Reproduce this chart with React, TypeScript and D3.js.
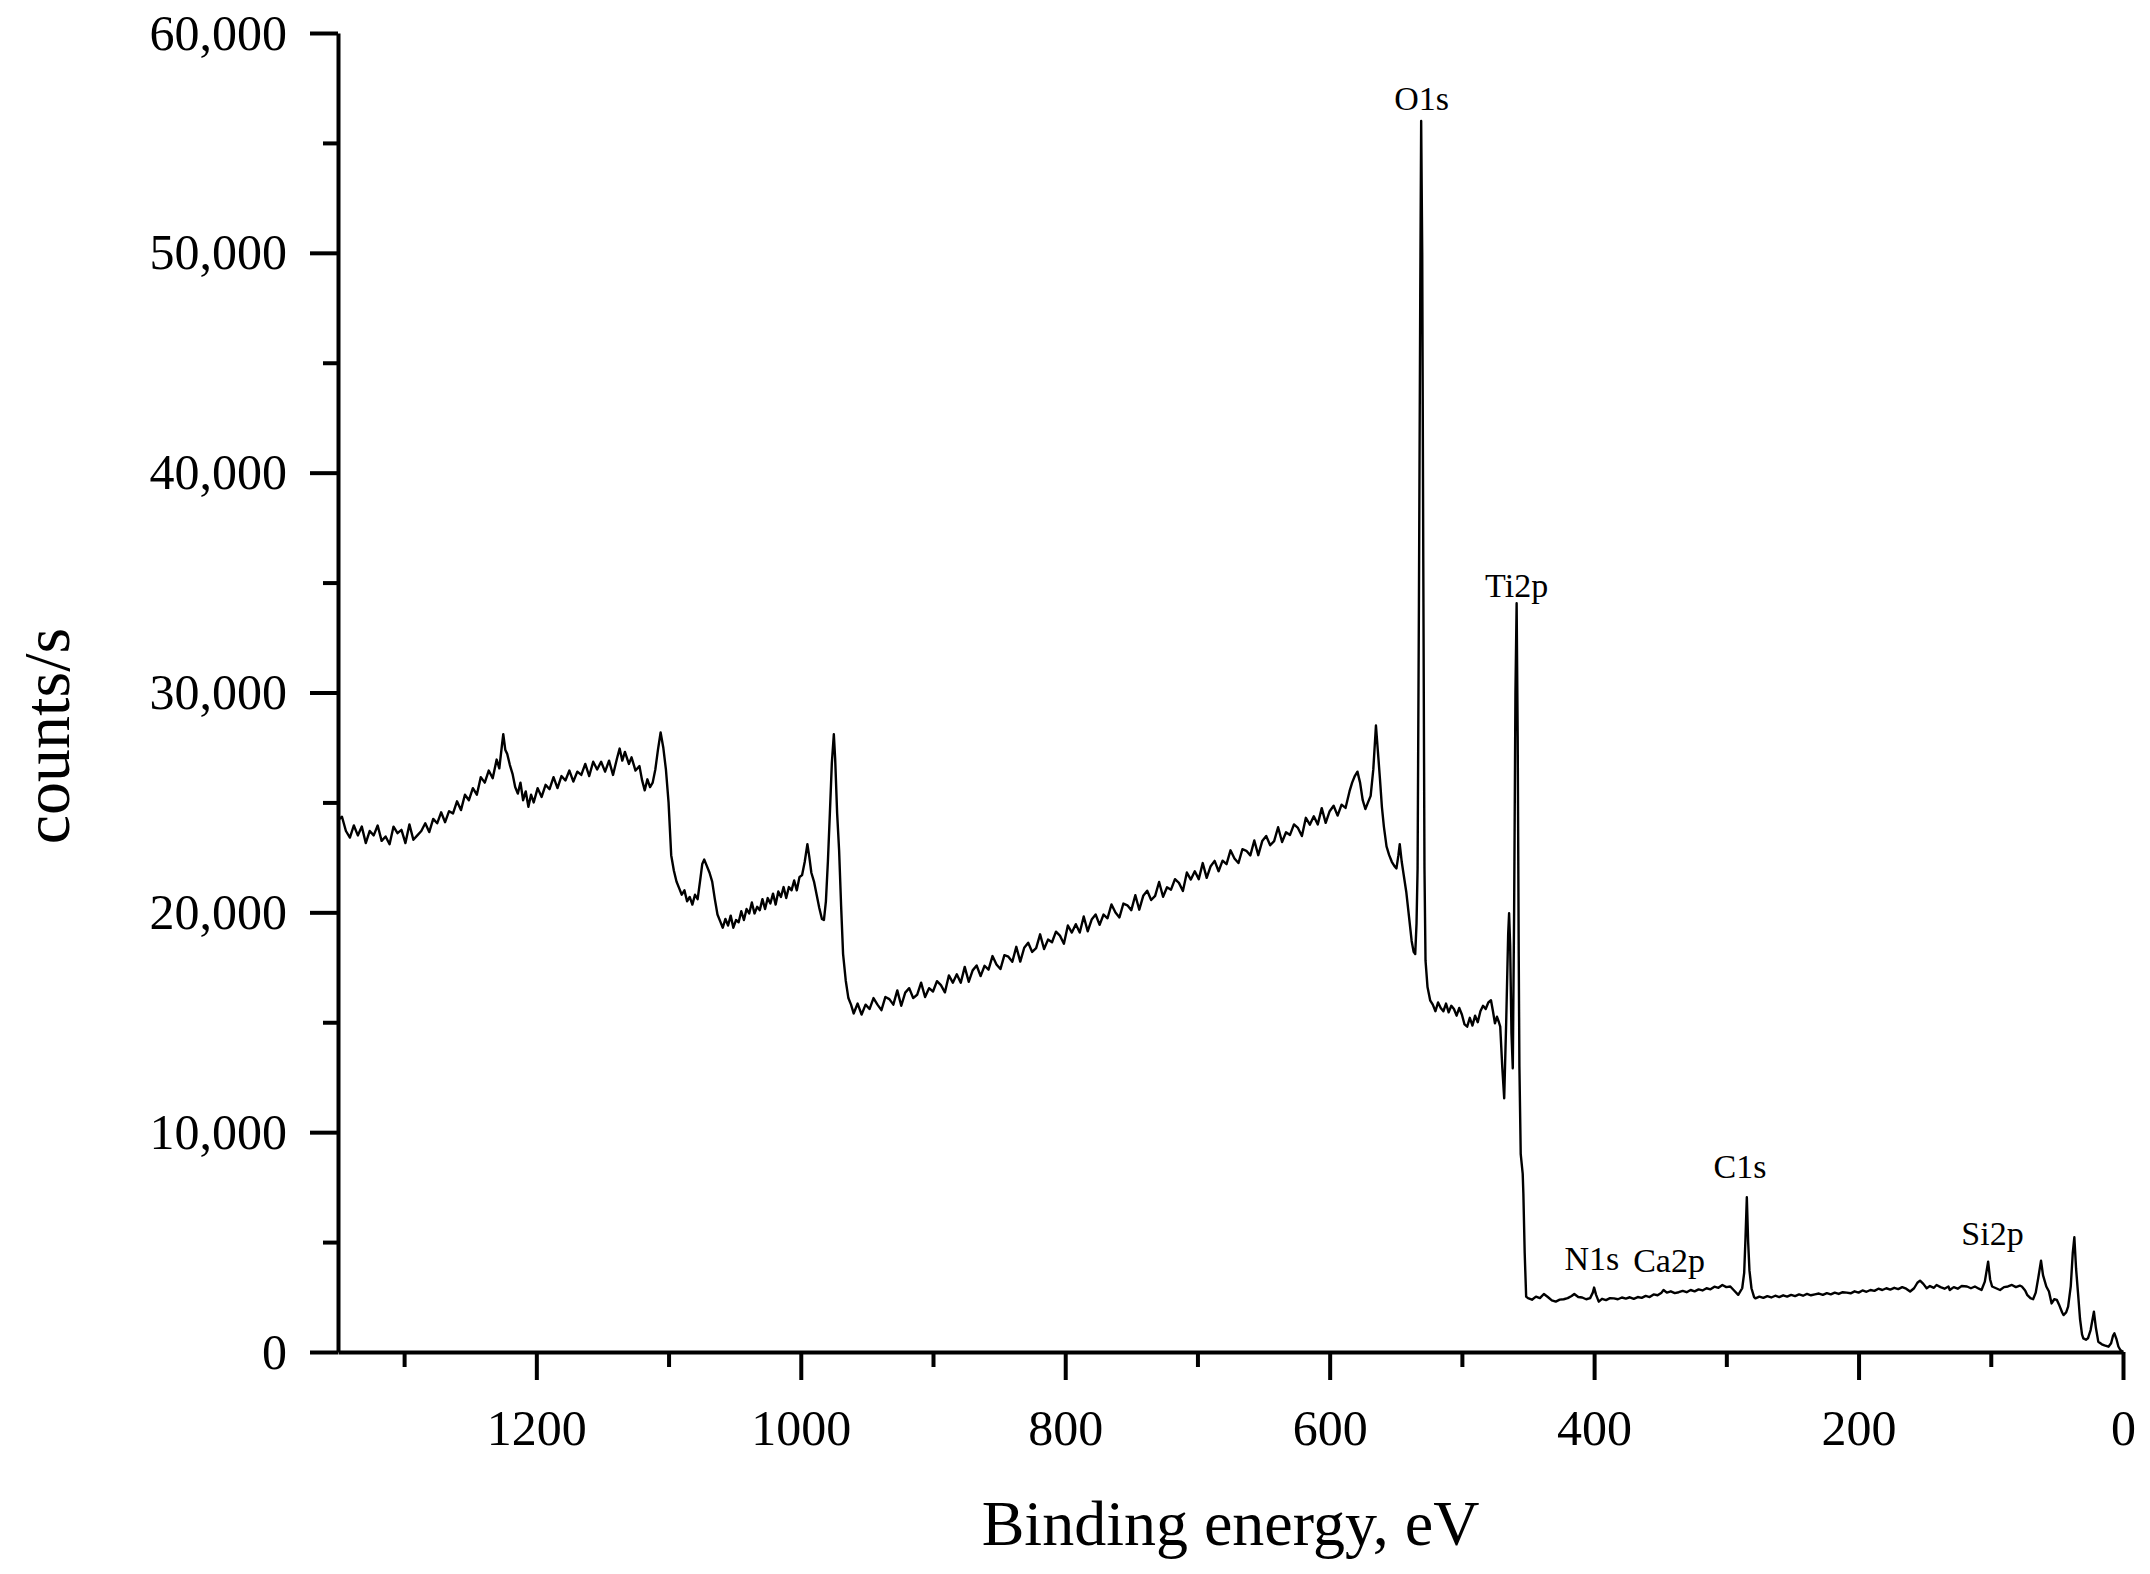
import * as d3 from 'd3';
import { useEffect, useRef } from 'react';

// XPS survey, [binding energy eV, counts/s]
const highEnergyRegion: [number, number][] = [
  [1350, 24200], [1347, 24350], [1344, 23700], [1341, 23400], [1338, 23950], [1335, 23500],
  [1332, 23900], [1329, 23150], [1326, 23700], [1323, 23500], [1320, 23950], [1317, 23250],
  [1314, 23450], [1311, 23100], [1308, 23900], [1305, 23600], [1302, 23750], [1299, 23150],
  [1296, 24000], [1293, 23300], [1290, 23500], [1287, 23700], [1284, 24050], [1281, 23650],
  [1278, 24250], [1275, 24050], [1272, 24550], [1269, 24100], [1266, 24600], [1263, 24500],
  [1260, 25050], [1257, 24650], [1254, 25350], [1251, 25100], [1248, 25650], [1245, 25350],
  [1242, 26150], [1239, 25900], [1236, 26450], [1233, 26100], [1230, 26950], [1228, 26550],
  [1226, 27600], [1225, 28100], [1223.5, 27400], [1222, 27200], [1220, 26700], [1218, 26300],
  [1216, 25700], [1214, 25400], [1212, 25900], [1210, 25100], [1208, 25500], [1206, 24800],
  [1204, 25350], [1202, 25000], [1199, 25650], [1196, 25250], [1193, 25800], [1190, 25600],
  [1187, 26150], [1184, 25650], [1181, 26200], [1178, 26000], [1175, 26450], [1172, 25950],
  [1169, 26400], [1166, 26250], [1163, 26750], [1160, 26200], [1157, 26850], [1154, 26500],
  [1151, 26850], [1148, 26400], [1145, 26900], [1142, 26250], [1139, 27000], [1137, 27450],
  [1135, 26900], [1133, 27300], [1130, 26750], [1128, 27050], [1125, 26450], [1122, 26650],
  [1120, 26000], [1118, 25550], [1116, 26050], [1114, 25700], [1112, 25900], [1110, 26500],
  [1108, 27400], [1106, 28180], [1104, 27500], [1102, 26500], [1100, 25000], [1098, 22600],
  [1096, 21900], [1094, 21400], [1092, 21100], [1090, 20800], [1088, 21000], [1086, 20500],
  [1084, 20700], [1082, 20350], [1080, 20800], [1078, 20600], [1076, 21500], [1074.5, 22200],
  [1073, 22400], [1071, 22100], [1069, 21800], [1067, 21400], [1065, 20600], [1063, 19900],
  [1061, 19600], [1059, 19300], [1057, 19700], [1055, 19400], [1053, 19850], [1051, 19300],
  [1049, 19650], [1047, 19550], [1045, 20050], [1043, 19650], [1041, 20150], [1039, 19950],
  [1037, 20450], [1035, 19950], [1033, 20250], [1031, 20100], [1029, 20600], [1027, 20150],
  [1025, 20650], [1023, 20400], [1021, 20850], [1019, 20350], [1017, 20950], [1015, 20700],
  [1013, 21150], [1011, 20650], [1009, 21150], [1007, 21000], [1005, 21450], [1003, 21000],
  [1001, 21600], [999, 21700], [997, 22300], [995, 23100], [993.5, 22500], [992, 21800],
  [990, 21400], [988, 20800], [986, 20200], [984, 19700], [982.5, 19650], [981, 20500],
  [979.5, 22300], [978, 24500], [976.5, 26800], [975, 28100], [974, 27000], [972.5, 24500],
  [971, 22800], [969.5, 20300], [968, 18100], [966, 16900], [964, 16100], [962, 15800],
];

const backgroundSlope: [number, number][] = [
  [960, 15400], [957, 15850], [954, 15350], [951, 15800], [948, 15600], [945, 16100],
  [942, 15800], [939, 15550], [936, 16150], [933, 16050], [930, 15800], [927, 16450],
  [924, 15750], [921, 16350], [918, 16550], [915, 16100], [912, 16250], [909, 16800],
  [906, 16150], [903, 16550], [900, 16400], [897, 16870], [894, 16690], [891, 16360],
  [888, 17130], [885, 16800], [882, 17180], [879, 16800], [876, 17520], [873, 16840],
  [870, 17360], [867, 17580], [864, 17100], [861, 17570], [858, 17390], [855, 18010],
  [852, 17630], [849, 17420], [846, 18050], [843, 17980], [840, 17750], [837, 18430],
  [834, 17760], [831, 18390], [828, 18620], [825, 18200], [822, 18370], [819, 19000],
  [816, 18330], [813, 18760], [810, 18640], [807, 19120], [804, 18940], [801, 18570],
  [798, 19400], [795, 19080], [792, 19460], [789, 19080], [786, 19810], [783, 19140],
  [780, 19670], [777, 19900], [774, 19430], [771, 19900], [768, 19730], [765, 20360],
  [762, 19990], [759, 19770], [756, 20400], [753, 20320], [750, 20100], [747, 20780],
  [744, 20120], [741, 20750], [738, 20980], [735, 20560], [732, 20750], [729, 21380],
  [726, 20710], [723, 21140], [720, 21030], [717, 21510], [714, 21340], [711, 20970],
  [708, 21810], [705, 21490], [702, 21870], [699, 21510], [696, 22240], [693, 21570],
  [690, 22100], [687, 22340], [684, 21870], [681, 22350], [678, 22190], [675, 22820],
  [672, 22450], [669, 22240], [666, 22870], [663, 22800], [660, 22590], [657, 23270],
  [654, 22600], [651, 23240], [648, 23470], [645, 23050], [642, 23240], [639, 23870],
  [636, 23200], [633, 23640], [630, 23520], [627, 24000], [624, 23840], [621, 23470],
  [618, 24300], [615, 23990], [612, 24370], [609, 24000], [606, 24740], [603, 24070],
  [600, 24600], [597, 24850], [594, 24400], [591, 24900], [588, 24750], [585, 25500],
];

const oxygenTitaniumRegion: [number, number][] = [
  [583, 25900], [581, 26200], [579, 26400], [577, 25900], [575, 25100], [573, 24700],
  [571, 25000], [569, 25300], [567, 26500], [565, 28500], [563.5, 27300], [562, 26100],
  [560.5, 24800], [559, 23900], [557, 23000], [555, 22600], [553, 22300], [551, 22100],
  [549.5, 22000], [548, 22600], [547, 23100], [545.5, 22300], [544, 21700], [542, 20900],
  [540, 19800], [538, 18700], [536.5, 18200], [535.3, 18100], [534.3, 19500], [533.5, 22000],
  [532.5, 34000], [531.5, 48000], [530.8, 56000], [530, 50000], [529.2, 36000], [528.3, 22000],
  [527.5, 17800], [526, 16600], [524, 16000], [522, 15800], [520, 15500], [518, 15900],
  [516, 15650], [514, 15500], [512, 15850], [510, 15450], [508, 15750], [506, 15600],
  [504, 15300], [502, 15650], [500, 15350], [498, 14900], [496, 14800], [494, 15200],
  [492, 14850], [490, 15300], [488, 15000], [486, 15500], [484, 15750], [482, 15600],
  [480, 15900], [478, 16000], [476.5, 15500], [475, 14950], [473.5, 15250], [472, 15000],
  [471, 14800], [469.5, 13000], [468, 11540], [466.5, 15000], [465, 19000], [464.3, 19960],
  [463.5, 18500], [462.5, 14500], [461.5, 12900], [460.5, 20000], [459.5, 30000], [458.6, 34060],
  [457.8, 28000], [457, 18000], [456.5, 13000], [455.5, 9000], [454, 8100], [453.5, 7200],
  [452.5, 4500], [451.4, 2520], [450, 2450],
];

const lowEnergyRegion: [number, number][] = [
  [447, 2380], [444, 2520], [441, 2450], [438, 2640], [435, 2500], [432, 2350], [429, 2290],
  [426, 2380], [423, 2400], [420, 2450], [417, 2550], [415, 2640], [412, 2500], [409, 2480],
  [406, 2400], [403, 2450], [401, 2700], [400, 2930], [398.5, 2600], [396.5, 2290], [394, 2420],
  [391, 2360], [388, 2450], [385, 2440], [382, 2400], [379, 2480], [376, 2430], [373, 2490],
  [370, 2420], [367, 2500], [364, 2460], [361, 2550], [358, 2500], [355, 2620], [352, 2580],
  [349, 2700], [347.5, 2820], [345, 2700], [342, 2760], [339, 2680], [336, 2720], [333, 2780],
  [330, 2720], [327, 2820], [324, 2760], [321, 2850], [318, 2800], [315, 2900], [312, 2850],
  [309, 2970], [306, 2920], [303, 3050], [300, 2950], [297, 2980], [294.5, 2820], [291, 2600],
  [288, 2900], [286.5, 3600], [285.5, 5200], [284.5, 7040], [283.5, 5000], [282.5, 3700],
  [281, 2900], [279, 2500], [278, 2440], [275, 2520], [272, 2460], [269, 2540], [266, 2480],
  [263, 2560], [260, 2500], [257, 2580], [254, 2520], [251, 2600], [248, 2540], [245, 2620],
  [242, 2560], [239, 2640], [236, 2580], [233, 2620], [230, 2660], [227, 2600], [224, 2680],
  [221, 2620], [218, 2700], [215, 2640], [212, 2720], [209, 2700], [206, 2670], [203, 2760],
  [200, 2700], [197, 2800], [194, 2740], [191, 2820], [188, 2780], [185, 2880], [182, 2820],
  [179, 2900], [176, 2840], [173, 2920], [170, 2860], [167, 2950], [164, 2880], [161, 2750],
  [158, 2900], [155.5, 3150], [153.5, 3245], [151, 3100], [148.5, 2900], [146, 3000], [143, 2920],
  [141, 3050], [138, 2950], [135, 2880], [132, 2980], [131, 2820], [128, 2950], [125, 2880],
  [122, 3000], [118, 2980], [115, 2900], [112, 2980], [109, 2880], [107, 2820], [104.5, 3200],
  [102, 4110], [100.5, 3300], [99, 2980], [96, 2900], [93, 2820], [90, 2950], [87, 2980],
  [84, 3050], [81, 2950], [78, 3020], [76.5, 2980], [74, 2800], [72.5, 2600], [70, 2450],
  [68, 2400], [66, 2700], [64, 3400], [62, 4150], [60.5, 3500], [58, 2980], [56, 2750],
  [54, 2210], [52, 2400], [50, 2370], [48, 2100], [46, 1800], [45, 1680], [43, 1800],
  [41.5, 2060], [39.5, 3000], [38, 4500], [36.8, 5220], [35.5, 3800], [34, 2670], [32.5, 1500],
  [31, 800], [30, 620], [28, 560], [26.5, 620], [24.5, 1000], [22, 1830], [20.5, 1100],
  [18.7, 470], [16, 350], [14, 300], [11, 240], [9, 400], [7.5, 750], [6.5, 850], [5, 600],
  [3.5, 250], [2, 90], [0, 0],
];

const majorEnergyTicks = [1200, 1000, 800, 600, 400, 200, 0];
const minorEnergyTicks = [1300, 1100, 900, 700, 500, 300, 100];
const majorCountTicks = [0, 10000, 20000, 30000, 40000, 50000, 60000];
const minorCountTicks = [5000, 15000, 25000, 35000, 45000, 55000];

// label anchor (text baseline centre) in data units
const peakLabels = [
  { name: 'O1s', ev: 530.5, cps: 56500 },
  { name: 'Ti2p', ev: 458.6, cps: 34350 },
  { name: 'N1s', ev: 401.7, cps: 3730 },
  { name: 'Ca2p', ev: 343.3, cps: 3650 },
  { name: 'C1s', ev: 289.6, cps: 7920 },
  { name: 'Si2p', ev: 98.7, cps: 4870 },
];

const dimensions = {
  width: 2150,
  height: 1574,
  left: 338,
  right: 2123,
  top: 33,
  bottom: 1352,
};

const font = "'Liberation Serif', 'Times New Roman', serif";

export default function App() {
  const svgRef = useRef<SVGSVGElement>(null);

  useEffect(() => {
    const svg = d3.select(svgRef.current);
    svg.selectAll('*').remove();

    const xScale = d3
      .scaleLinear()
      .domain([1350, 0])
      .range([dimensions.left, dimensions.right]);

    const yScale = d3
      .scaleLinear()
      .domain([0, 60000])
      .range([dimensions.bottom, dimensions.top]);

    const styleAxis = (g: any, keepDomain: boolean) => {
      g.select('.domain')
        .attr('stroke-width', 4)
        .attr('display', keepDomain ? null : 'none');
      g.selectAll('.tick line').attr('stroke-width', 4);
      g.selectAll('.tick text')
        .style('font-family', font)
        .style('font-size', '50px')
        .attr('fill', '#000');
    };

    // x axis, minor then major
    svg
      .append('g')
      .attr('transform', 'translate(0,' + dimensions.bottom + ')')
      .call(
        d3
          .axisBottom(xScale)
          .tickValues(minorEnergyTicks)
          .tickSize(15)
          .tickSizeOuter(0)
          .tickFormat(() => '')
      )
      .call((g: any) => styleAxis(g, false));

    svg
      .append('g')
      .attr('transform', 'translate(0,' + dimensions.bottom + ')')
      .call(
        d3
          .axisBottom(xScale)
          .tickValues(majorEnergyTicks)
          .tickSize(28)
          .tickSizeOuter(0)
          .tickFormat(d3.format('d') as any)
      )
      .call((g: any) => {
        styleAxis(g, true);
        g.selectAll('.tick text').attr('y', 93).attr('dy', 0);
      });

    // y axis
    svg
      .append('g')
      .attr('transform', 'translate(' + dimensions.left + ',0)')
      .call(
        d3
          .axisLeft(yScale)
          .tickValues(minorCountTicks)
          .tickSize(15)
          .tickSizeOuter(0)
          .tickFormat(() => '')
      )
      .call((g: any) => styleAxis(g, false));

    svg
      .append('g')
      .attr('transform', 'translate(' + dimensions.left + ',0)')
      .call(
        d3
          .axisLeft(yScale)
          .tickValues(majorCountTicks)
          .tickSize(28)
          .tickSizeOuter(0)
          .tickFormat(d3.format(',') as any)
      )
      .call((g: any) => {
        styleAxis(g, true);
        g.selectAll('.tick text').attr('x', -51);
      });

    // spectrum
    const spectrum = [
      ...highEnergyRegion,
      ...backgroundSlope,
      ...oxygenTitaniumRegion,
      ...lowEnergyRegion,
    ];

    const line = d3
      .line<[number, number]>()
      .x((d) => xScale(d[0]))
      .y((d) => yScale(d[1]));

    svg
      .append('path')
      .datum(spectrum)
      .attr('d', line as any)
      .style('fill', 'none')
      .style('stroke', '#000')
      .style('stroke-width', '2.4')
      .style('stroke-linejoin', 'round');

    // peak labels
    svg
      .append('g')
      .selectAll('text')
      .data(peakLabels)
      .enter()
      .append('text')
      .attr('x', (d) => xScale(d.ev))
      .attr('y', (d) => yScale(d.cps))
      .attr('text-anchor', 'middle')
      .style('font-family', font)
      .style('font-size', '34px')
      .text((d) => d.name);

    // X label
    svg
      .append('text')
      .attr('x', (dimensions.left + dimensions.right) / 2)
      .attr('y', 1545)
      .attr('text-anchor', 'middle')
      .style('font-family', font)
      .style('font-size', '64px')
      .text('Binding energy, eV');

    // Y label
    svg
      .append('text')
      .attr('text-anchor', 'middle')
      .attr('transform', 'translate(69,736)rotate(-90)')
      .style('font-family', font)
      .style('font-size', '66px')
      .text('counts/s');
  }, []);

  return (
    <div>
      <svg
        ref={svgRef}
        width={dimensions.width}
        height={dimensions.height}
        style={{ position: 'absolute', left: 0, top: 0, background: '#fff' }}
      ></svg>
    </div>
  );
}
